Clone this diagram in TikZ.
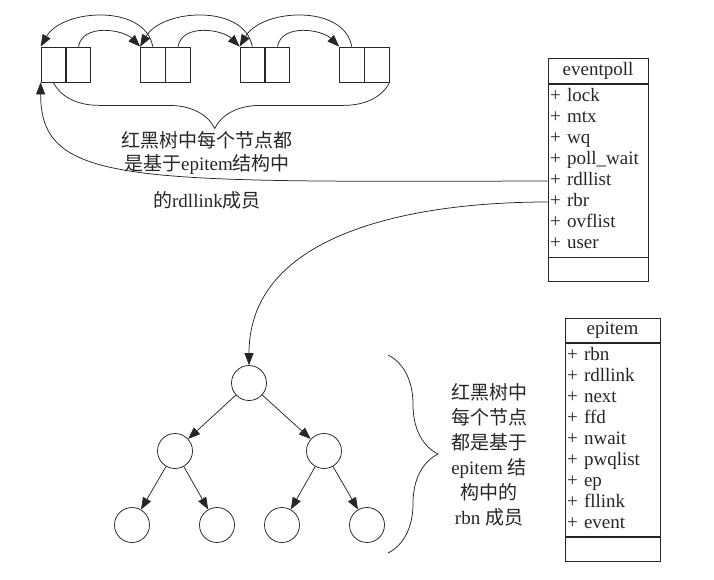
\documentclass[tikz,border=0pt]{standalone}
\usepackage{fontspec}
\setmainfont{Liberation Serif}
\newfontfamily\cjk{Noto Sans CJK SC}
\usetikzlibrary{arrows.meta, positioning, decorations.pathreplacing}

\begin{document}
\begin{tikzpicture}[
    x=1pt, y=-1pt,
    cell/.style={draw, minimum width=24.5pt, minimum height=35pt, inner sep=0pt},
    rbnode/.style={draw, circle, minimum size=35pt, inner sep=0pt},
    classhead/.style={draw, minimum width=#1, minimum height=24.5pt, inner sep=0pt},
    classbody/.style={draw, minimum width=#1, inner sep=0pt},
    field/.style={text width=#1, inner xsep=2pt, inner ysep=0pt, minimum height=21pt,
                  text height=13pt, text depth=4pt, align=left},
    brace/.style={decorate, decoration={brace, amplitude=#1}},
    >={Triangle[length=12pt,width=9pt]},
    font=\fontsize{19}{23}\selectfont,
    color=black!85,
    line width=0.75pt
  ]
  \useasboundingbox (0,0) rectangle (714,579);

  % 双方向リスト (rdllink)
  \foreach \i in {1,...,4}{
    \node[cell] (lk\i-a) at ({53.25+99.5*(\i-1)},64.5) {};
    \node[cell, right=0pt of lk\i-a] (lk\i-b) {};
  }
  \foreach \i [evaluate=\i as \j using int(\i+1)] in {1,2,3}{
    \draw[->] (lk\i-b.north) to[out=80,in=135] (lk\j-a.north west);
    \draw[->] (lk\j-a.north) to[out=100,in=60] (lk\i-a.north west);
  }
  \draw[brace=46pt, decoration={aspect=0.52}] (lk4-b.south east) -- (lk1-a.south);
  \node[align=center] (lktext) at (207,170)
    {{\cjk 红黑树中每个节点都}\\{\cjk 是基于}epitem{\cjk 结构中}\\[14pt]{\cjk 的}rdllink{\cjk 成员}};

  % eventpoll
  \node[classhead=100pt] (ephead) at (598,71) {eventpoll};
  \node[classbody=100pt, minimum height=173pt, below=0pt of ephead] (epbody) {};
  \node[classhead=100pt, minimum height=24pt, below=0pt of epbody] (epfoot) {};
  \foreach \f/\n [count=\i] in {lock/lock, mtx/mtx, wq/wq, poll\_wait/pollwait,
      rdllist/rdllist, rbr/rbr, ovflist/ovflist, user/user}{
    \pgfmathsetmacro\dy{2.5+21*(\i-1)}
    \node[field=96pt, below=\dy pt of ephead] (ep-\n) {+ \f};
  }

  % epitem
  \node[classhead=95pt] (eihead) at (612.5,330.5) {epitem};
  \node[classbody=95pt, minimum height=193pt, below=0pt of eihead] (eibody) {};
  \node[classhead=95pt, minimum height=24pt, below=0pt of eibody] (eifoot) {};
  \foreach \f [count=\i] in {rbn, rdllink, next, ffd, nwait, pwqlist, ep, fllink, event}{
    \pgfmathsetmacro\dy{1.5+21.1*(\i-1)}
    \node[field=91pt, below=\dy pt of eihead] (ei-\f) {+ \f};
  }

  % 红黑树
  \node[rbnode] (rb0) at (249,383) {};
  \node[rbnode, on grid, below left=68pt and 74pt of rb0] (rb1) {};
  \node[rbnode, on grid, below right=68pt and 75pt of rb0] (rb2) {};
  \node[rbnode, on grid, below left=74pt and 43pt of rb1] (rb3) {};
  \node[rbnode, on grid, below right=74pt and 42pt of rb1] (rb4) {};
  \node[rbnode, on grid, below left=74pt and 42pt of rb2] (rb5) {};
  \node[rbnode, on grid, below right=74pt and 43pt of rb2] (rb6) {};
  \foreach \a/\b in {rb0/rb1, rb0/rb2, rb1/rb3, rb1/rb4, rb2/rb5, rb2/rb6}
    \draw[->] (\a) -- (\b);
  \draw[brace=50pt] (388,355) -- (388,553);
  \node[align=center, font=\fontsize{19}{25}\selectfont] (rbtext) at (489,455)
    {{\cjk 红黑树中}\\{\cjk 每个节点}\\{\cjk 都是基于}\\epitem {\cjk 结}\\{\cjk 构中的}\\rbn {\cjk 成员}};

  % eventpoll からの矢印
  \draw[->] (ep-rdllist.west) .. controls +(-418,1) and +(0,103) .. (lk1-a.south west);
  \draw[->] (ep-rbr.west) to[out=180,in=90] (rb0.north);
\end{tikzpicture}
\end{document}
